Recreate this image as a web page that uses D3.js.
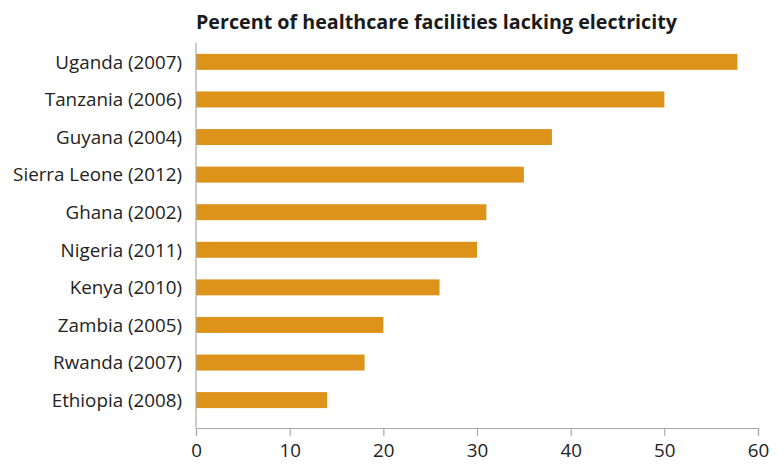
<!DOCTYPE html>
<html><head><meta charset="utf-8">
<script src="https://cdn.jsdelivr.net/npm/d3@7"></script>
<style>
body{margin:0;background:#fff;}
svg text{font-family:"Open Sans",sans-serif;}
</style></head>
<body>
<svg id="c" width="784" height="464"></svg>
<script>
const categories = ["Uganda (2007)","Tanzania (2006)","Guyana (2004)","Sierra Leone (2012)","Ghana (2002)","Nigeria (2011)","Kenya (2010)","Zambia (2005)","Rwanda (2007)","Ethiopia (2008)"];
const values = [57.8, 50, 38, 35, 31, 30, 26, 20, 18, 14];
const xTicks = [0,10,20,30,40,50,60];
const title = "Percent of healthcare facilities lacking electricity";

const svg = d3.select("#c");
const x = d3.scaleLinear().domain([0,60]).range([196,758]);
const y = d3.scaleBand().domain(categories).range([43,419]).paddingInner(0.575).paddingOuter(0.29);

svg.append("text").attr("x",196).attr("y",29)
  .attr("font-size",19).attr("font-weight",700).attr("fill","#1a1a1a").text(title)
  .attr("textLength",481).attr("lengthAdjust","spacingAndGlyphs");

svg.selectAll("rect.bar").data(categories).enter().append("rect")
  .attr("class","bar")
  .attr("x",x(0)).attr("y",d=>y(d))
  .attr("width",(d,i)=>x(values[i])-x(0)).attr("height",y.bandwidth())
  .attr("fill","#dd931a");

svg.selectAll("text.cat").data(categories).enter().append("text")
  .attr("class","cat")
  .attr("x",182).attr("y",d=>y(d)+y.bandwidth()/2)
  .attr("dy","0.36em").attr("text-anchor","end")
  .attr("font-size",18.8).attr("fill","#222").text(d=>d);

// y axis line
svg.append("line").attr("x1",x(0)).attr("x2",x(0)).attr("y1",43).attr("y2",428)
  .attr("stroke","#aaa").attr("stroke-width",1.2);

const xAxis = d3.axisBottom(x).tickValues(xTicks).tickSize(8).tickPadding(8).tickFormat(d3.format("d"));
const gx = svg.append("g").attr("transform","translate(0,428)").call(xAxis);
gx.select(".domain").attr("stroke","#aaa").attr("stroke-width",1.2);
gx.selectAll(".tick line").attr("stroke","#aaa").attr("stroke-width",1.2);
gx.selectAll(".tick text").attr("font-size",18.8).attr("fill","#222")
  .attr("font-family","'Open Sans',sans-serif");
</script>
</body></html>
